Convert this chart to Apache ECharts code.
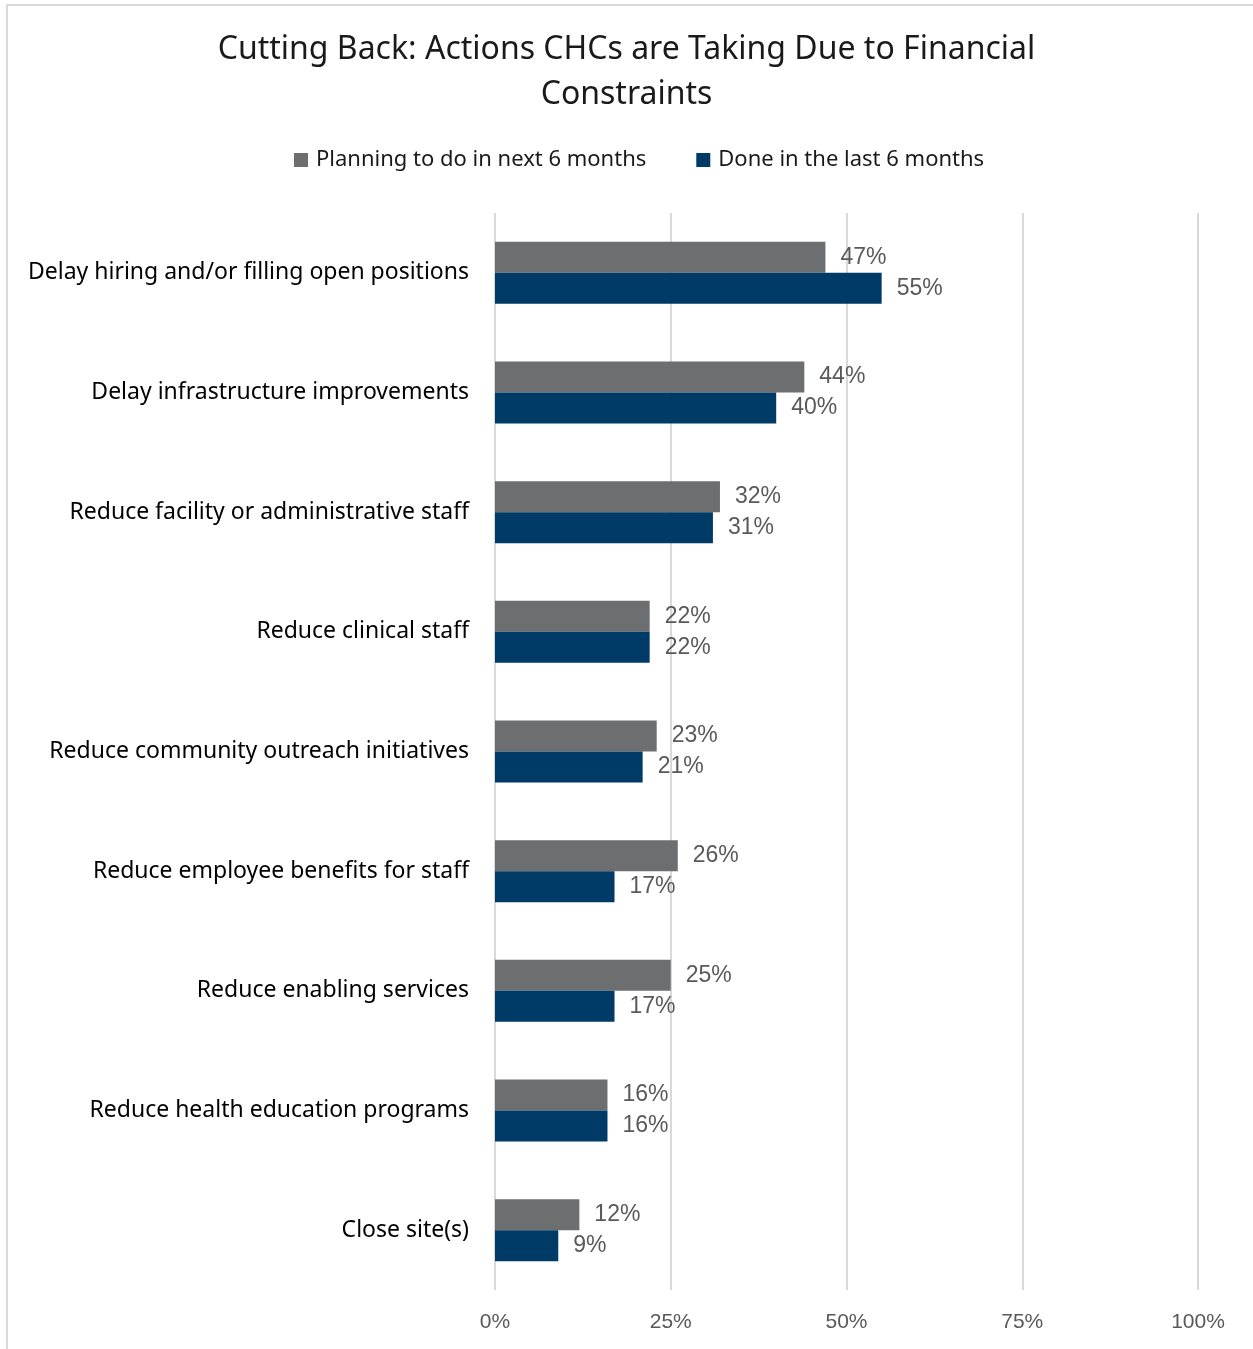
<!DOCTYPE html>
<html>
<head>
<meta charset="utf-8">
<script src="https://cdn.jsdelivr.net/npm/echarts@6/dist/echarts.min.js"></script>
<style>
    html, body { margin: 0; padding: 0; background: #fff; overflow: hidden; }
    #chart { position: absolute; left: 0; top: 0; width: 1253px; height: 1349px; }
    .frame {
        position: absolute; left: 6px; top: 4px; width: 1300px; height: 1400px;
        border-left: 2px solid #d9d9d9; border-top: 2px solid #d9d9d9;
        pointer-events: none;
    }
</style>
</head>
<body>
<div id="chart"></div>
<div class="frame"></div>
<script>
// categories, top to bottom
const categories = [
    'Delay hiring and/or filling open positions',
    'Delay infrastructure improvements',
    'Reduce facility or administrative staff',
    'Reduce clinical staff',
    'Reduce community outreach initiatives',
    'Reduce employee benefits for staff',
    'Reduce enabling services',
    'Reduce health education programs',
    'Close site(s)',
];
const planningNext6 = [47, 44, 32, 22, 23, 26, 25, 16, 12];
const doneLast6 = [55, 40, 31, 22, 21, 17, 17, 16, 9];
const xTicks = [0, 25, 50, 75, 100];

const labelFont = '"Noto Sans", Lato, sans-serif';
const numFont = '"Liberation Sans", Arial, sans-serif';

const chart = echarts.init(document.getElementById('chart'));

const valueLabel = {
    show: true,
    position: 'right',
    distance: 15,
    formatter: p => p.value + '%',
    fontFamily: numFont,
    fontSize: 23,
    color: '#595959',
};

const option = {
    animation: false,
    title: {
        text: 'Cutting Back: Actions CHCs are Taking Due to Financial\nConstraints',
        left: 'center',
        top: 22,
        textStyle: {
            fontFamily: labelFont,
            fontSize: 32,
            fontWeight: 'normal',
            color: '#1a1a1a',
            lineHeight: 45,
        },
    },
    legend: {
        top: 144,
        left: 289,
        itemWidth: 14,
        itemHeight: 14,
        itemGap: 50,
        icon: 'rect',
        textStyle: { fontFamily: labelFont, fontSize: 22, color: '#1a1a1a', padding: [0, 0, 0, 3] },
        data: ['Planning to do in next 6 months', 'Done in the last 6 months'],
    },
    grid: {
        left: 495,
        right: 55,
        top: 213,
        bottom: 59,
        containLabel: false,
    },
    xAxis: {
        type: 'value',
        min: 0,
        max: 100,
        interval: 25,
        axisLine: { show: false },
        axisTick: { show: false },
        splitLine: { lineStyle: { color: '#d9d9d9', width: 2 } },
        axisLabel: {
            formatter: v => (xTicks.includes(v) ? v + '%' : ''),
            fontFamily: numFont,
            fontSize: 21,
            color: '#595959',
            margin: 22,
        },
    },
    yAxis: {
        type: 'category',
        inverse: true,
        data: categories,
        axisLine: { show: false },
        axisTick: { show: false },
        axisLabel: {
            fontFamily: labelFont,
            fontSize: 23,
            color: '#000',
            margin: 26,
        },
    },
    series: [
        {
            name: 'Planning to do in next 6 months',
            type: 'bar',
            data: planningNext6,
            barWidth: 31,
            barGap: '0%',
            itemStyle: { color: '#6d6e70' },
            label: valueLabel,
        },
        {
            name: 'Done in the last 6 months',
            type: 'bar',
            data: doneLast6,
            barWidth: 31,
            barGap: '0%',
            itemStyle: { color: '#003a66' },
            label: valueLabel,
        },
    ],
};

chart.setOption(option);
</script>
</body>
</html>
